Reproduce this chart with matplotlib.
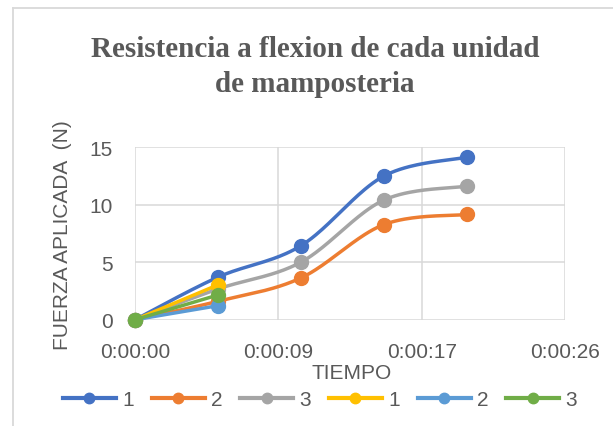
import numpy as np
import matplotlib
matplotlib.use("Agg")
import matplotlib.pyplot as plt
from matplotlib.lines import Line2D
from matplotlib.ticker import FuncFormatter, FixedLocator

# ---- data ----
tiempo_s = [0, 5, 10, 15, 20]          # seconds
serie1 = [0, 3.7, 6.43, 12.49, 14.12]
serie2 = [0, 1.6, 3.63, 8.27, 9.15]
serie3 = [0, 2.67, 5.0, 10.4, 11.6]
tiempo_b = [0, 5]
serie1b = [0, 3.03]
serie2b = [0, 1.22]
serie3b = [0, 2.15]
labels = ["1", "2", "3", "1", "2", "3"]
colors = ["#4472C4", "#ED7D31", "#A5A5A5", "#FFC000", "#5B9BD5", "#70AD47"]
x_ticks_s = [0, 8.64, 17.28, 25.92]   # Excel time major unit (0.0001 day)
y_ticks = [0, 5, 10, 15]

title1 = "Resistencia a flexion de cada unidad"
title2 = "de mamposteria"
xlabel = "TIEMPO"
ylabel = "FUERZA APLICADA  (N)"

TXT = "#595959"
GRID = "#D9D9D9"
SANS = ["Liberation Sans", "DejaVu Sans"]
SERIF = ["Liberation Serif", "DejaVu Serif"]


def excel_smooth(x, y, n=40):
    x = np.asarray(x, float)
    y = np.asarray(y, float)
    if len(x) < 3:
        return x, y
    P = np.column_stack([x, y])
    Pe = np.vstack([P[0], P, P[-1]])
    out = [P[0:1]]
    t = np.linspace(0, 1, n)[1:, None]
    for i in range(len(P) - 1):
        p0 = P[i]
        p3 = P[i + 1]
        c1 = p0 + (Pe[i + 2] - Pe[i]) / 6.0
        c2 = p3 - (Pe[i + 3] - Pe[i + 1]) / 6.0
        seg = ((1 - t) ** 3) * p0 + 3 * ((1 - t) ** 2) * t * c1 + 3 * (1 - t) * t ** 2 * c2 + t ** 3 * p3
        out.append(seg)
    Q = np.vstack(out)
    return Q[:, 0], Q[:, 1]


W, H = 613, 427
fig = plt.figure(figsize=(W / 100, H / 100), dpi=100)

# chart border (only top and left visible, cropped on other sides)
fig.add_artist(Line2D([13 / W, 13 / W], [1 - 9 / H, 0], color=GRID, lw=1.3,
                      transform=fig.transFigure))
fig.add_artist(Line2D([13 / W, 1], [1 - 9 / H, 1 - 9 / H], color=GRID, lw=1.3,
                      transform=fig.transFigure))

left, right, top, bottom = 135, 565, 148.2, 320.7
ax = fig.add_axes([left / W, 1 - bottom / H, (right - left) / W, (bottom - top) / H])
ax.set_xlim(0, 25.92)
ax.set_ylim(0, 15)
for s in ax.spines.values():
    s.set_visible(False)

ax.xaxis.set_major_locator(FixedLocator(x_ticks_s))
ax.yaxis.set_major_locator(FixedLocator(y_ticks))


def fmt_time(v, pos):
    s = int(round(v))
    return f"{s // 3600}:{(s // 60) % 60:02d}:{s % 60:02d}"


ax.xaxis.set_major_formatter(FuncFormatter(fmt_time))
ax.grid(True, color=GRID, lw=1.1, zorder=0)
ax.set_axisbelow(True)
ax.tick_params(axis="both", length=0, labelsize=15, labelcolor=TXT)
ax.tick_params(axis="x", pad=16)
ax.tick_params(axis="y", pad=16)
for lab in ax.get_xticklabels() + ax.get_yticklabels():
    lab.set_family(SANS)

series = [
    (tiempo_s, serie1), (tiempo_s, serie2), (tiempo_s, serie3),
    (tiempo_b, serie1b), (tiempo_b, serie2b), (tiempo_b, serie3b),
]
for (xs, ys), c in zip(series, colors):
    sx, sy = excel_smooth(xs, ys)
    ax.plot(sx, sy, color=c, lw=2.5, solid_capstyle="round", clip_on=False, zorder=3)
    ax.plot(xs, ys, "o", color=c, ms=10, clip_on=False, zorder=3)

# titles and axis labels
fig.text(315 / W, 1 - 56.7 / H, title1, ha="center", va="baseline", fontsize=21,
         fontweight="bold", color=TXT, family=SERIF)
fig.text(315 / W, 1 - 91.7 / H, title2, ha="center", va="baseline", fontsize=21,
         fontweight="bold", color=TXT, family=SERIF)
fig.text(352 / W, 1 - 374 / H, xlabel, ha="center", va="center", fontsize=15,
         color=TXT, family=SANS)
fig.text(63 / W, 1 - 235 / H, ylabel, ha="center", va="center", rotation=90,
         fontsize=15, color=TXT, family=SANS)

handles = [Line2D([], [], color=c, lw=3, marker="o", ms=7.5) for c in colors]
leg = fig.legend(handles, labels, loc="center", bbox_to_anchor=(320 / W, 1 - 401 / H),
                 ncol=6, frameon=False, handlelength=2.55, handletextpad=0.3,
                 columnspacing=0.85, borderpad=0, borderaxespad=0,
                 prop={"family": SANS, "size": 15})
for t in leg.get_texts():
    t.set_color(TXT)

fig.savefig("out.png", dpi=100)
